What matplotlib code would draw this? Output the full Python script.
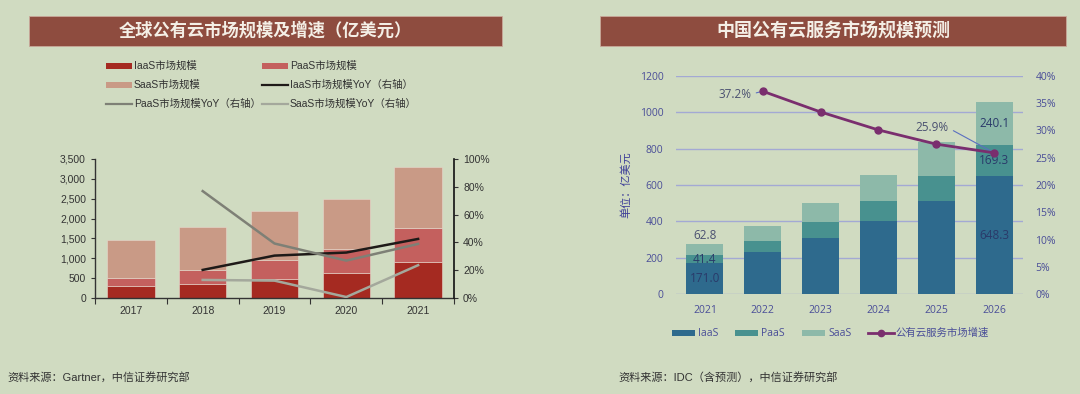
import matplotlib
matplotlib.use("Agg")
import matplotlib.pyplot as plt
import numpy as np
from matplotlib.patches import Rectangle
from matplotlib.lines import Line2D
from matplotlib.ticker import FuncFormatter

# ---------------- data ----------------
g_years = ["2017", "2018", "2019", "2020", "2021"]
g_iaas = [303, 353, 471, 631, 900]
g_paas = [193, 354, 488, 614, 866]
g_saas = [968, 1084, 1228, 1236, 1531]
g_iaas_yoy = [None, 20.2, 30.5, 32.7, 42.5]
g_paas_yoy = [None, 76.9, 39.2, 26.9, 38.9]
g_saas_yoy = [None, 13.0, 12.5, 0.7, 23.6]

c_years = ["2021", "2022", "2023", "2024", "2025", "2026"]
c_iaas = [171.0, 232, 311, 401, 514, 648.3]
c_paas = [41.4, 61, 84, 109, 137, 169.3]
c_saas = [62.8, 82, 106, 145, 183, 240.1]
c_growth = [None, 37.2, 33.4, 30.1, 27.5, 25.9]

BG = "#D0DBC1"
W, H = 1080, 394
fig = plt.figure(figsize=(W / 100, H / 100), dpi=100, facecolor=BG)

LEFT_FONT = ["Liberation Sans", "Noto Sans CJK SC"]
RIGHT_FONT = ["Open Sans", "Noto Sans CJK SC"]
CJK = ["Noto Sans CJK SC", "DejaVu Sans"]


def fx(px):
    return px / W


def fy(py):
    return 1 - py / H


# ---------------- title bars ----------------
TITLE_C = "#8E4C3F"
for x0, x1, title, fs in [(29, 502, "全球公有云市场规模及增速（亿美元）", 12.4),
                          (600, 1066, "中国公有云服务市场规模预测", 13.0)]:
    fig.patches.append(Rectangle((fx(x0), fy(46)), fx(x1) - fx(x0), fy(16) - fy(46),
                                 transform=fig.transFigure, facecolor=TITLE_C,
                                 edgecolor="#C9A89A", lw=0.6, zorder=0))
    fig.text(fx((x0 + x1) / 2), fy(31), title, ha="center", va="center",
             color="#F4EFE6", fontsize=fs, fontweight="bold", family=CJK)

# ---------------- left chart ----------------
axL = fig.add_axes([fx(95), fy(298), fx(454) - fx(95), fy(159) - fy(298)])
axL.set_facecolor("none")
xl = np.arange(len(g_years))
c1, c2, c3 = "#A52A21", "#C4605E", "#C99A86"
bw = 0.66
b1 = axL.bar(xl, g_iaas, bw, color=c1, edgecolor="#E8D8CE", linewidth=0.4, zorder=2)
b2 = axL.bar(xl, g_paas, bw, bottom=g_iaas, color=c2, edgecolor="#E8D8CE", linewidth=0.4, zorder=2)
bot3 = np.array(g_iaas) + np.array(g_paas)
b3 = axL.bar(xl, g_saas, bw, bottom=bot3, color=c3, edgecolor="#E8D8CE", linewidth=0.4, zorder=2)
axL.set_xlim(-0.5, len(g_years) - 0.5)
axL.set_ylim(0, 3500)
axL.set_yticks(np.arange(0, 3501, 500))
axL.yaxis.set_major_formatter(FuncFormatter(lambda v, p: f"{int(v):,}"))
axL.set_xticks(xl)
axL.set_xticklabels(g_years)
axL.set_xticks(np.arange(-0.5, len(g_years), 1), minor=True)
axL.tick_params(axis="x", which="major", length=0, pad=6, labelsize=7.5, colors="#333333")
axL.tick_params(axis="x", which="minor", length=4, direction="out", color="#333333", width=0.8)
axL.tick_params(axis="y", length=3, direction="out", labelsize=7.5, colors="#333333", width=0.8)
for lab in axL.get_xticklabels() + axL.get_yticklabels():
    lab.set_family(LEFT_FONT)
for s in ["top", "right"]:
    axL.spines[s].set_visible(False)
for s in ["left", "bottom"]:
    axL.spines[s].set_color("#333333")
    axL.spines[s].set_linewidth(1.0)

axL2 = axL.twinx()
axL2.set_ylim(0, 100)
axL2.set_yticks(np.arange(0, 101, 20))
axL2.yaxis.set_major_formatter(FuncFormatter(lambda v, p: f"{int(v)}%"))
axL2.tick_params(axis="y", length=3, direction="out", labelsize=7.5, colors="#333333", width=0.8)
for lab in axL2.get_yticklabels():
    lab.set_family(LEFT_FONT)
for s in ["top", "left", "bottom"]:
    axL2.spines[s].set_visible(False)
axL2.spines["right"].set_color("#111111")
axL2.spines["right"].set_linewidth(1.2)

xs = xl[1:]
l1, = axL2.plot(xs, g_iaas_yoy[1:], color="#1E1A18", lw=1.8, zorder=4)
l2, = axL2.plot(xs, g_paas_yoy[1:], color="#7E8076", lw=1.8, zorder=4)
l3, = axL2.plot(xs, g_saas_yoy[1:], color="#A4A89C", lw=1.8, zorder=4)

handles = [b1, b2, b3, l1, l2, l3]
labels = ["IaaS市场规模", "PaaS市场规模", "SaaS市场规模", "IaaS市场规模YoY（右轴）",
          "PaaS市场规模YoY（右轴）", "SaaS市场规模YoY（右轴）"]
rows = [66, 85, 104]
cols = [106, 262]
for i, (h, lab) in enumerate(zip(handles, labels)):
    r, c = i // 2, i % 2
    x0 = cols[c]
    y = rows[r]
    if i < 3:
        fig.patches.append(Rectangle((fx(x0), fy(y + 3)), fx(26), 6 / H,
                                     transform=fig.transFigure,
                                     facecolor=h.patches[0].get_facecolor(),
                                     edgecolor="none"))
    else:
        fig.lines.append(Line2D([fx(x0), fx(x0 + 26)], [fy(y), fy(y)],
                                transform=fig.transFigure, color=h.get_color(), lw=1.6))
    fig.text(fx(x0 + 28), fy(y), lab, ha="left", va="center", fontsize=7.5,
             color="#333333", family=LEFT_FONT)

fig.text(fx(7), fy(377), "资料来源：Gartner，中信证券研究部", ha="left", va="center",
         fontsize=8, color="#333333", family=LEFT_FONT)

# ---------------- right chart ----------------
axR = fig.add_axes([fx(676), fy(294), fx(1023) - fx(676), fy(76) - fy(294)])
axR.set_facecolor("none")
xr = np.arange(len(c_years))
TXT = "#4A4E98"
d1, d2, d3 = "#2E6A8D", "#48918F", "#8DB9A9"
bwr = 0.64
r1 = axR.bar(xr, c_iaas, bwr, color=d1, zorder=2)
r2 = axR.bar(xr, c_paas, bwr, bottom=c_iaas, color=d2, zorder=2)
botr = np.array(c_iaas) + np.array(c_paas)
r3 = axR.bar(xr, c_saas, bwr, bottom=botr, color=d3, zorder=2)
axR.set_xlim(-0.5, len(c_years) - 0.5)
axR.set_ylim(0, 1200)
axR.set_yticks(np.arange(0, 1201, 200))
axR.grid(axis="y", color="#A3A9D4", lw=1.0, zorder=0)
axR.set_axisbelow(True)
axR.set_xticks(xr)
axR.set_xticklabels(c_years)
axR.tick_params(axis="both", length=0, labelsize=7.5, colors=TXT)
axR.tick_params(axis="y", pad=9)
axR.tick_params(axis="x", pad=8)
for lab in axR.get_xticklabels() + axR.get_yticklabels():
    lab.set_family(RIGHT_FONT)
for s in axR.spines.values():
    s.set_visible(False)
axR.set_ylabel("单位：亿美元", family=CJK, color="#3E3F98", fontsize=8, labelpad=6)

LBL = "#2A3A6A"
for idx in [0, len(c_years) - 1]:
    i_ = c_iaas[idx]
    p_ = c_paas[idx]
    s_ = c_saas[idx]
    axR.text(xr[idx], i_ / 2, f"{i_:.1f}", ha="center", va="center", fontsize=8.5,
             color=LBL, family=RIGHT_FONT, zorder=5)
    axR.text(xr[idx], i_ + p_ / 2, f"{p_:.1f}", ha="center", va="center", fontsize=8.5,
             color=LBL, family=RIGHT_FONT, zorder=5)
    if idx == 0:
        axR.text(xr[idx], i_ + p_ + s_ + 12, f"{s_:.1f}", ha="center", va="bottom",
                 fontsize=8.5, color="#4A5070", family=RIGHT_FONT, zorder=5)
    else:
        axR.text(xr[idx], i_ + p_ + s_ / 2, f"{s_:.1f}", ha="center", va="center",
                 fontsize=8.5, color=LBL, family=RIGHT_FONT, zorder=5)

axR2 = axR.twinx()
axR2.set_ylim(0, 40)
axR2.set_yticks(np.arange(0, 41, 5))
axR2.yaxis.set_major_formatter(FuncFormatter(lambda v, p: f"{int(v)}%"))
axR2.tick_params(axis="y", length=0, labelsize=7.5, colors=TXT, pad=9)
for lab in axR2.get_yticklabels():
    lab.set_family(RIGHT_FONT)
for s in axR2.spines.values():
    s.set_visible(False)
PUR = "#7A2E6E"
ln, = axR2.plot(xr[1:], c_growth[1:], color=PUR, lw=2.0, marker="o", ms=5, zorder=6)

axR2.annotate(f"{c_growth[1]:.1f}%", xy=(xr[1], c_growth[1]), xytext=(-20, -2),
              textcoords="offset points", ha="center", va="center", fontsize=8.5,
              color="#4A5070", family=RIGHT_FONT,
              arrowprops=dict(arrowstyle="-", color="#5A6FC0", lw=0.8, shrinkA=1.5, shrinkB=1,
                              relpos=(1.0, 0.5)))
axR2.annotate(f"{c_growth[-1]:.1f}%", xy=(xr[-1], c_growth[-1]), xytext=(-45, 18),
              textcoords="offset points", ha="center", va="center", fontsize=8.5,
              color="#4A5070", family=RIGHT_FONT,
              arrowprops=dict(arrowstyle="-", color="#5A6FC0", lw=0.8, shrinkA=2, shrinkB=1,
                              relpos=(1.0, 0.5)))

# right legend
leg_items = [(r1, "IaaS"), (r2, "PaaS"), (r3, "SaaS"), (ln, "公有云服务市场增速")]
lx = [672, 735, 802, 868]
ly = 333
for (h, lab), x0 in zip(leg_items, lx):
    if lab != "公有云服务市场增速":
        fig.patches.append(Rectangle((fx(x0), fy(ly + 3)), fx(23), 6 / H,
                                     transform=fig.transFigure,
                                     facecolor=h.patches[0].get_facecolor(), edgecolor="none"))
        fig.text(fx(x0 + 26), fy(ly), lab, ha="left", va="center", fontsize=7.5,
                 color=TXT, family=RIGHT_FONT)
    else:
        fig.lines.append(Line2D([fx(x0), fx(x0 + 26)], [fy(ly), fy(ly)],
                                transform=fig.transFigure, color=PUR, lw=2.0))
        fig.lines.append(Line2D([fx(x0 + 13)], [fy(ly)], transform=fig.transFigure,
                                color=PUR, marker="o", ms=4.5))
        fig.text(fx(x0 + 27), fy(ly), lab, ha="left", va="center", fontsize=7.5,
                 color=TXT, family=CJK)

fig.text(fx(618), fy(377), "资料来源：IDC（含预测），中信证券研究部", ha="left", va="center",
         fontsize=8, color="#333333", family=LEFT_FONT)

fig.savefig("out.png", dpi=100, facecolor=BG)
